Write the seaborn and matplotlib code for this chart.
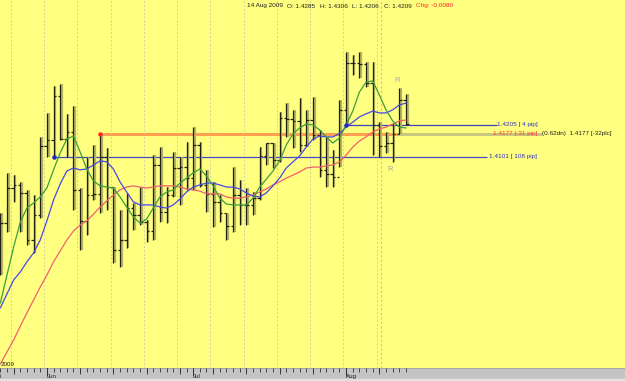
import numpy as np
import pandas as pd
import matplotlib
matplotlib.use("Agg")
import matplotlib.pyplot as plt
import seaborn as sns

# ---------------- data ----------------
dates = pd.bdate_range("2009-05-21", "2009-08-14")   # 62 daily bars

open_ = [1.3782, 1.3886, 1.4000, 1.4010, 1.3984, 1.3831, 1.3912, 1.4137, 1.4156, 1.4299,
         1.4159, 1.4182, 1.3994, 1.3893, 1.3977, 1.3980, 1.4101, 1.4003, 1.3799, 1.3831,
         1.3935, 1.3912, 1.3889, 1.3860, 1.4075, 1.3922, 1.3977, 1.4065, 1.4068, 1.4032,
         1.4140, 1.4010, 1.3981, 1.3955, 1.3919, 1.3877, 1.3977, 1.3945, 1.3945, 1.3967,
         1.4104, 1.4146, 1.4091, 1.4228, 1.4224, 1.4218, 1.4140, 1.4221, 1.4172, 1.4059,
         1.4046, 1.4036, 1.4254, 1.4406, 1.4406, 1.4403, 1.4341, 1.4205, 1.4137, 1.4146,
         1.4177, 1.4285]
high = [1.3919, 1.4049, 1.4042, 1.4020, 1.3994, 1.3977, 1.4166, 1.4244, 1.4332, 1.4338,
        1.4241, 1.4267, 1.4000, 1.4101, 1.4140, 1.4177, 1.4130, 1.4003, 1.3929, 1.3984,
        1.3951, 1.4003, 1.3896, 1.4107, 1.4133, 1.4003, 1.4117, 1.4101, 1.4149, 1.4198,
        1.4149, 1.4059, 1.4020, 1.3977, 1.3919, 1.4068, 1.4026, 1.4000, 1.3987, 1.4133,
        1.4146, 1.4146, 1.4247, 1.4276, 1.4254, 1.4293, 1.4254, 1.4296, 1.4189, 1.4166,
        1.4124, 1.4286, 1.4442, 1.4432, 1.4442, 1.4410, 1.4410, 1.4214, 1.4182, 1.4211,
        1.4325, 1.4306]
low = [1.3717, 1.3857, 1.3955, 1.3857, 1.3815, 1.3789, 1.3903, 1.4101, 1.4101, 1.4156,
       1.4101, 1.3929, 1.3799, 1.3847, 1.3961, 1.3919, 1.3929, 1.3756, 1.3743, 1.3805,
       1.3864, 1.3880, 1.3825, 1.3831, 1.3889, 1.3886, 1.3971, 1.3945, 1.3994, 1.3994,
       1.4003, 1.3922, 1.3873, 1.3889, 1.3831, 1.3857, 1.3880, 1.3880, 1.3912, 1.3961,
       1.4075, 1.4065, 1.4085, 1.4166, 1.4130, 1.4117, 1.4133, 1.4156, 1.4036, 1.4003,
       1.4003, 1.4068, 1.4205, 1.4367, 1.4358, 1.4328, 1.4107, 1.4101, 1.4114, 1.4085,
       1.4177, 1.4206]
close = [1.3886, 1.4000, 1.4010, 1.3984, 1.3831, 1.3912, 1.4137, 1.4156, 1.4299, 1.4159,
         1.4182, 1.3994, 1.3893, 1.3977, 1.3980, 1.4101, 1.4003, 1.3799, 1.3831, 1.3935,
         1.3912, 1.3889, 1.3860, 1.4075, 1.3922, 1.3977, 1.4065, 1.4068, 1.4032, 1.4140,
         1.4010, 1.3981, 1.3955, 1.3919, 1.3877, 1.3977, 1.3945, 1.3945, 1.3967, 1.4104,
         1.4146, 1.4091, 1.4228, 1.4224, 1.4218, 1.4140, 1.4221, 1.4172, 1.4059, 1.4046,
         1.4036, 1.4254, 1.4406, 1.4406, 1.4403, 1.4341, 1.4205, 1.4137, 1.4146, 1.4177,
         1.4286, 1.4209]

ma_fast = [1.3626, 1.3717, 1.3808, 1.3889, 1.3935, 1.3951, 1.3971, 1.4000, 1.4059, 1.4114,
           1.4159, 1.4169, 1.4117, 1.4062, 1.4023, 1.4007, 1.4003, 1.4000, 1.3971, 1.3938,
           1.3906, 1.3886, 1.3899, 1.3935, 1.3971, 1.3987, 1.3994, 1.4016, 1.4032, 1.4049,
           1.4062, 1.4039, 1.4007, 1.3967, 1.3948, 1.3945, 1.3945, 1.3945, 1.3967, 1.4003,
           1.4029, 1.4055, 1.4088, 1.4140, 1.4175, 1.4195, 1.4208, 1.4205, 1.4189, 1.4166,
           1.4146, 1.4163, 1.4205, 1.4250, 1.4312, 1.4344, 1.4348, 1.4302, 1.4254, 1.4218,
           1.4198, 1.4195]
ma_mid = [1.3610, 1.3656, 1.3701, 1.3727, 1.3760, 1.3789, 1.3831, 1.3893, 1.3961, 1.4013,
          1.4055, 1.4065, 1.4059, 1.4062, 1.4075, 1.4088, 1.4085, 1.4062, 1.4020, 1.3987,
          1.3955, 1.3945, 1.3945, 1.3945, 1.3938, 1.3935, 1.3945, 1.3964, 1.3987, 1.4003,
          1.4010, 1.4016, 1.4016, 1.4010, 1.4003, 1.4003, 1.3997, 1.3984, 1.3974, 1.3971,
          1.3984, 1.4007, 1.4032, 1.4065, 1.4085, 1.4104, 1.4133, 1.4159, 1.4169, 1.4166,
          1.4166, 1.4177, 1.4198, 1.4214, 1.4231, 1.4241, 1.4250, 1.4244, 1.4244, 1.4254,
          1.4270, 1.4276]
ma_slow = [1.3428, 1.3467, 1.3506, 1.3551, 1.3594, 1.3636, 1.3678, 1.3717, 1.3760, 1.3795,
           1.3831, 1.3860, 1.3880, 1.3893, 1.3915, 1.3938, 1.3958, 1.3977, 1.3994, 1.4003,
           1.4007, 1.4003, 1.4000, 1.4003, 1.4007, 1.4007, 1.4007, 1.4003, 1.3997, 1.3994,
           1.3990, 1.3981, 1.3981, 1.3981, 1.3971, 1.3967, 1.3967, 1.3971, 1.3977, 1.3987,
           1.3997, 1.4010, 1.4020, 1.4032, 1.4042, 1.4052, 1.4065, 1.4068, 1.4068, 1.4072,
           1.4075, 1.4085, 1.4107, 1.4133, 1.4153, 1.4166, 1.4182, 1.4192, 1.4198, 1.4208,
           1.4218, 1.4221]

month_labels = ["Jun", "Jul", "Aug"]
month_starts = ["2009-06-01", "2009-07-01", "2009-08-03"]

level_values = [1.4205, 1.4177, 1.4101]
level_starts = ["2009-08-03", "2009-06-11", "2009-06-02"]
level_texts = ["1.4205 [ 4 pip]", "1.4177 [-31 pip]", "1.4101 [ 108 pip]"]
level_extra = "(0.62dn)  1.4177 [-32plc]"

header_parts = ["14 Aug 2009", "O: 1.4285", "H: 1.4306", "L: 1.4206", "C: 1.4209", "Chg: -0.0080"]
year_text = "2009"

# ---------------- figure ----------------
sns.set_style("white")
plt.rcParams["font.family"] = ["Liberation Sans", "DejaVu Sans"]

W, H = 625, 381
PX = 6.65            # pixels per bar
fig = plt.figure(figsize=(W / 100, H / 100), dpi=100)
fig.patch.set_facecolor("#FFFF80")

strip_h = 13
ax = fig.add_axes([0, strip_h / H, 1, 1 - strip_h / H])
ax.set_facecolor("#FFFF80")
axs = fig.add_axes([0, 0, 1, strip_h / H])
axs.set_facecolor("#C4C4C4")

xmax = W / PX - 0.05
for a in (ax, axs):
    a.set_xlim(-0.05, xmax)
    for s in a.spines.values():
        s.set_visible(False)
    a.set_xticks([])
    a.set_yticks([])
ax.set_ylim(1.3415, 1.4611)
axs.set_ylim(0, 1)

idx = np.arange(len(dates))
pos = {d: i for i, d in enumerate(dates)}

# weekly dashed grid lines (weekend boundaries)
fridays = [i for i, d in enumerate(dates) if d.weekday() == 4 and i < 58]
for f in fridays:
    ax.axvline(f + 0.6, color="#D2D2A2", lw=0.7, ls=(0, (2, 2)), zorder=0)
ax.axvline(57.3, color="#F0B0A0", lw=0.8, ls=(0, (2, 2)), zorder=0)

# level lines
lvl_end = [74.7, 59.7, 73.2]
lvl_colors = ["#4040B8", "#FFA050", "#4848C8"]
for v, sd, e, c in zip(level_values, level_starts, lvl_end, lvl_colors):
    s = pos[pd.Timestamp(sd)]
    lw = 2.2 if c == "#FFA050" else 0.9
    ax.hlines(v, s, e, color=c, lw=lw, zorder=1)
ax.hlines(level_values[1], 59.7, 81.5, color="#C8C880", lw=2.2, zorder=1)
ax.plot(pos[pd.Timestamp(level_starts[0])], level_values[0], "o", ms=2.2, color="#2020E0", zorder=6)
ax.plot(pos[pd.Timestamp(level_starts[1])], level_values[1], "o", ms=2.2, color="#FF2020", zorder=6)
ax.plot(pos[pd.Timestamp(level_starts[2])], level_values[2], "o", ms=2.2, color="#2020E0", zorder=6)

lab_right = 537 / PX
fs = 4.6
ax.text(lab_right, level_values[0], level_texts[0], color="#3030C0", fontsize=fs, va="center", ha="right")
ax.text(lab_right, level_values[1], level_texts[1], color="#FF3030", fontsize=fs, va="center", ha="right")
ax.text(542 / PX, level_values[1], level_extra, color="#202020", fontsize=fs, va="center", ha="left")
ax.text(lab_right, level_values[2], level_texts[2], color="#3030C0", fontsize=fs, va="center", ha="right")

# OHLC bars (shadow + black line)
ax.vlines(idx + 0.25, low, high, color="#B4B464", lw=1.6, zorder=2)
ax.vlines(idx, low, high, color="#202010", lw=0.9, zorder=3)
ax.hlines(open_, idx - 0.38, idx, color="#202010", lw=0.9, zorder=3)
ax.hlines(close, idx, idx + 0.38, color="#202010", lw=0.9, zorder=3)

# moving averages
df = pd.DataFrame({"i": idx, "fast": ma_fast, "mid": ma_mid, "slow": ma_slow})
sns.lineplot(data=df, x="i", y="slow", ax=ax, color="#F06070", lw=0.9, zorder=4)
sns.lineplot(data=df, x="i", y="mid", ax=ax, color="#4848E8", lw=0.9, zorder=4)
sns.lineplot(data=df, x="i", y="fast", ax=ax, color="#38A038", lw=0.9, zorder=4)
ax.set_xlabel("")
ax.set_ylabel("")
ax.set_xlim(-0.05, xmax)
ax.set_ylim(1.3415, 1.4611)

# R markers
ax.text(59.7, 1.4351, "R", color="#A8A8A8", fontsize=5.5, ha="center", va="center")
ax.text(58.6, 1.4059, "R", color="#A8A8A8", fontsize=5.5, ha="center", va="center")

# header: parts laid out one after another with small gaps
renderer = fig.canvas.get_renderer()
hx = 247.0
for txt in header_parts:
    col = "#FF2020" if txt.startswith("Chg") else "#202020"
    t = fig.text(hx / W, 1 - 6 / H, txt, fontsize=4.6, color=col, va="center", ha="left")
    bb = t.get_window_extent(renderer=renderer)
    hx = bb.x1 + 4.5
fig.text(1 / W, (H - 364) / H, year_text, fontsize=4.5, color="#202020", va="center", ha="left")

# bottom time strip
axs.axhspan(0, 0.16, color="#E2E2E2")
axs.axhline(0.98, color="#A0A0A0", lw=0.6)
axs.vlines(idx, 0.72, 1.0, color="#303030", lw=0.6)
mondays = [i for i, d in enumerate(dates) if d.weekday() == 0]
axs.vlines(mondays, 0.55, 1.0, color="#303030", lw=0.6)
for lab, ms in zip(month_labels, month_starts):
    p = pos[pd.Timestamp(ms)]
    axs.vlines(p, 0.4, 1.0, color="#303030", lw=0.7)
    axs.text(p, 0.35, lab, fontsize=4.5, color="#202020", va="center", ha="left")
axs.text(-1.3, 0.35, "Mai", fontsize=4.5, color="#202020", va="center", ha="left")

fig.savefig("out.png", dpi=100, facecolor=fig.get_facecolor())
